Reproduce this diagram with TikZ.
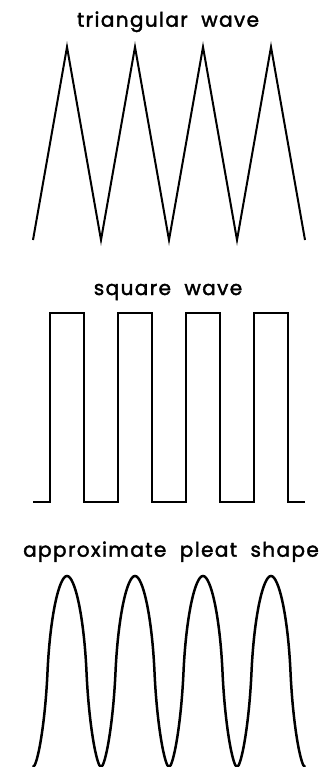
\documentclass[tikz,border=0pt]{standalone}
\usepackage{fontspec}
\setmainfont{Poppins}
\newfontfamily\titlefont{Poppins}[FakeBold=2,LetterSpace=7]
\tikzset{title/.style={anchor=base,inner sep=0pt,font=\titlefont\fontsize{20}{20}\selectfont}}

\begin{document}
\begin{tikzpicture}[x=1pt,y=-1pt]
\useasboundingbox (0,0) rectangle (328,767);
\node[title] (tri) at (168,26.7) {triangular\ \ wave};
\node[title] (sq) at (168,295) {square\ \ wave};
\node[title] (pleat) at (171,556.7) {approximate\ \ pleat\ \ shape};
\draw[line width=2pt] (33,240) \foreach \a in {67,135,203,271} { -- (\a,47) -- (\a+34,240) };
\draw[line width=2pt] (33,502) \foreach \a in {50,118,186,254} { -- (\a,502) -- (\a,313) -- (\a+34,313) -- (\a+34,502) } -- (305,502);
\draw[line width=2.5pt] (33,767) \foreach \a in {33,101,169,237} {
  .. controls (\a+4,767) and (\a+12,727) .. (\a+14.5,672)
  .. controls (\a+17,617) and (\a+26,576) .. (\a+34,576)
  .. controls (\a+42,576) and (\a+51,617) .. (\a+53.5,672)
  .. controls (\a+56,727) and (\a+64,767) .. (\a+68,767) };
\end{tikzpicture}
\end{document}
